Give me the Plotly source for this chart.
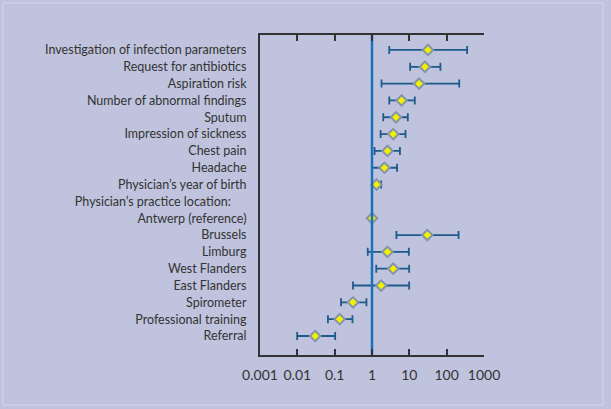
import plotly.graph_objects as go

labels = [
    "Investigation of infection parameters",
    "Request for antibiotics",
    "Aspiration risk",
    "Number of abnormal findings",
    "Sputum",
    "Impression of sickness",
    "Chest pain",
    "Headache",
    "Physician\u2019s year of birth",
    "Physician\u2019s practice location:\u2003\u2002",
    "Antwerp (reference)",
    "Brussels",
    "Limburg",
    "West Flanders",
    "East Flanders",
    "Spirometer",
    "Professional training",
    "Referral",
]
odds = [31.4, 26.2, 18.2, 6.2, 4.4, 3.7, 2.6, 2.15, 1.32, None, 1.0, 30.3, 2.6, 3.7, 1.76, 0.31, 0.136, 0.030]
ci_low = [2.9, 10.5, 1.8, 2.9, 2.0, 1.7, 1.17, 1.0, 1.02, None, 1.0, 4.5, 0.77, 1.3, 0.31, 0.148, 0.066, 0.0099]
ci_high = [353, 68, 217, 14.0, 9.1, 7.9, 5.6, 4.7, 1.76, None, 1.0, 208, 9.7, 9.9, 9.9, 0.71, 0.30, 0.103]
tick_vals = [0.001, 0.01, 0.1, 1, 10, 100, 1000]
tick_text = ["0.001", "0.01", "0.1", "1", "10", "100", "1000"]

plus = [None if o is None else h - o for o, h in zip(odds, ci_high)]
minus = [None if o is None else o - l for o, l in zip(odds, ci_low)]

bg = "#bfc3dd"
fig = go.Figure()
# reference line at OR = 1
fig.add_trace(go.Scatter(
    x=[1, 1], y=[0, 1], yaxis="y2", mode="lines",
    line=dict(color="#1a72bb", width=2.5), showlegend=False, hoverinfo="skip",
))
fig.add_trace(go.Scatter(
    x=odds, y=labels, mode="markers",
    marker=dict(symbol="diamond", size=8, color="#f2f000",
                line=dict(color="#8495ab", width=2)),
    error_x=dict(type="data", symmetric=False, array=plus, arrayminus=minus,
                 color="#1e5a8a", thickness=1.8, width=4),
    showlegend=False, hoverinfo="skip",
))

fig.add_shape(type="rect", xref="paper", yref="paper",
              x0=(3 - 260) / 224, x1=(603 - 260) / 224,
              y0=(355 - 405) / 320, y1=(355 - 3) / 320,
              line=dict(color="#d3d7e9", width=1), fillcolor="rgba(0,0,0,0)",
              layer="below")

fig.update_layout(
    width=611, height=409,
    paper_bgcolor=bg, plot_bgcolor=bg,
    margin=dict(l=260, r=127, t=35, b=54),
    font=dict(family="Lato", color="#333333"),
    xaxis=dict(type="log", range=[-3, 3], tickvals=tick_vals, ticktext=tick_text,
               showgrid=False, zeroline=False, showline=True, linecolor="#333333",
               linewidth=2, mirror="ticks", ticks="inside", ticklen=6,
               tickwidth=2, tickcolor="#333333", tickfont=dict(size=14),
               ticklabelstandoff=6, automargin=False),
    yaxis=dict(type="category", categoryorder="array", categoryarray=labels,
               range=[18.13, -0.89], showgrid=False, zeroline=False,
               showline=True, linecolor="#333333", linewidth=2, ticks="",
               tickfont=dict(size=12.5), ticklabelstandoff=9, automargin=False),
    yaxis2=dict(overlaying="y", range=[0, 1], visible=False),
)
fig.write_html("out.html", config={"displayModeBar": False},
               post_script="document.body.style.margin='0';document.body.style.background='%s';" % bg)
